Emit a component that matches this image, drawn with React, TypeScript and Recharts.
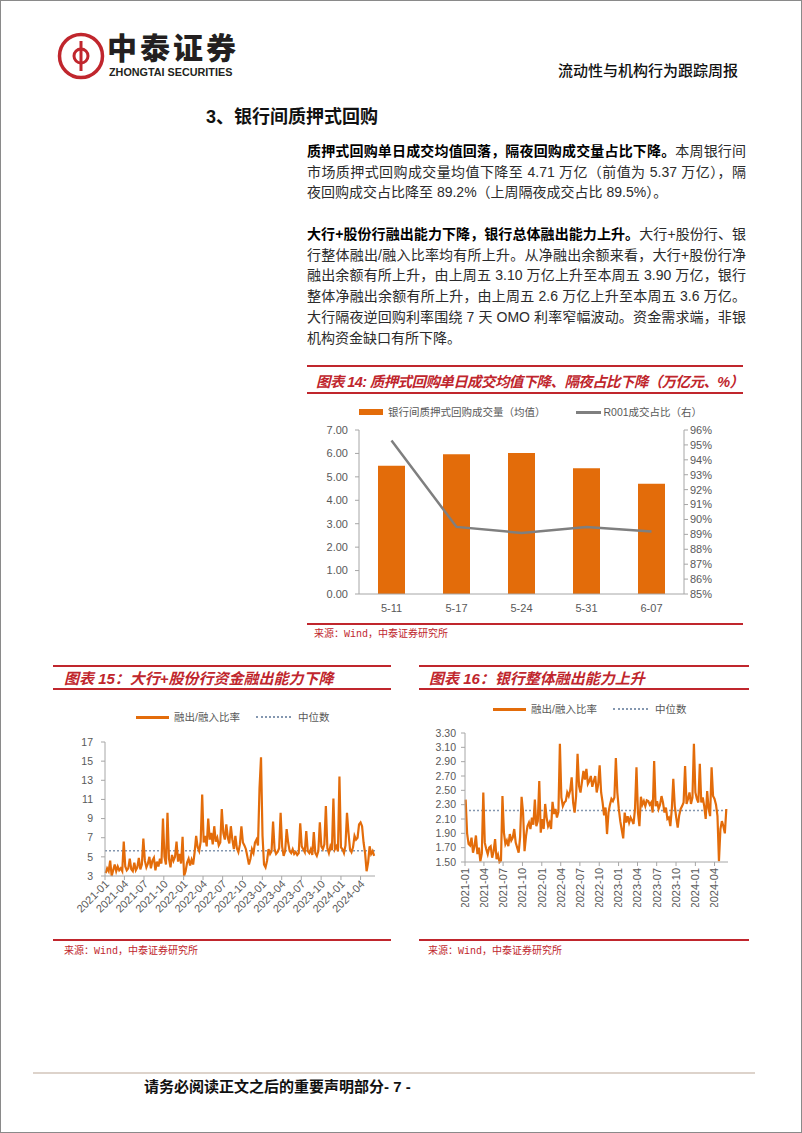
import React from 'react'
import {
  ComposedChart, LineChart, Bar, Line, XAxis, YAxis, ReferenceLine,
} from 'recharts'

const RED = '#c0262d'
const ORANGE = '#e36c0a'
const GREY = '#7f7f7f'
const AXIS = '#a6a6a6'
const TICK = '#595959'
const MEDIAN = '#8497b0'
const SANS = '"Liberation Sans", Arial, "Noto Sans CJK SC", sans-serif'
const CJK = '"Liberation Sans", "Noto Sans CJK SC", sans-serif'
const MONO = '"Liberation Mono", "Noto Sans CJK SC", monospace'

// 图表14：质押式回购
const weeks14 = ['5-11', '5-17', '5-24', '5-31', '6-07']
const volume14 = [5.47, 5.96, 6.02, 5.37, 4.71]
const r001Share14 = [95.3, 89.5, 89.1, 89.5, 89.2]
const leftTicks14 = [0, 1, 2, 3, 4, 5, 6, 7]
const rightTicks14 = [85, 86, 87, 88, 89, 90, 91, 92, 93, 94, 95, 96]

// 季度刻度（距 2021-01-01 的天数）
const quarterDays = [0, 90, 181, 273, 365, 455, 546, 638, 730, 820, 911, 1003, 1095, 1186]
const quarterLabels = [
  '2021-01', '2021-04', '2021-07', '2021-10', '2022-01', '2022-04', '2022-07',
  '2022-10', '2023-01', '2023-04', '2023-07', '2023-10', '2024-01', '2024-04',
]
const firstDay = 3 // 2021-01-04, 周度取样

// 图表15：大行+股份行 融出/融入比率（周度读数）
const ratio15 = [
  3.3, 3.8, 3.5, 4.6, 3.0, 3.6, 4.2, 3.5, 4.0, 3.6, 3.8, 3.5, 6.6,
  4.0, 3.6, 3.8, 4.8, 3.7, 3.5, 4.4, 3.6, 3.9, 4.9, 3.7, 4.2, 6.9,
  4.6, 3.9, 4.3, 5.0, 3.8, 4.6, 4.9, 3.6, 4.5, 4.0, 4.8, 4.3, 9.0,
  5.0, 4.2, 9.6, 4.8, 3.9, 5.2, 4.6, 5.0, 6.6, 4.5, 5.3, 4.3, 7.1,
  3.0, 3.5, 4.4, 4.8, 4.1, 4.7, 4.2, 5.5, 7.2, 6.0, 5.6, 6.6, 11.5,
  6.5, 7.2, 6.1, 9.0, 6.8, 7.5, 6.3, 8.2, 6.6, 7.0, 6.2, 6.5, 10.0,
  7.5, 6.8, 8.4, 7.0, 6.4, 8.2, 6.8, 5.8, 7.2, 5.9, 5.5, 6.3, 8.2,
  6.5, 6.2, 5.8, 5.0, 4.2, 4.8, 5.8, 5.4, 6.5, 6.8, 6.2, 12.1, 15.4,
  7.2, 4.2, 3.9, 4.6, 5.8, 5.3, 5.6, 8.7, 5.8, 5.3, 5.5, 5.9, 9.6,
  6.1, 5.1, 5.6, 7.9, 6.5, 5.6, 5.4, 5.8, 5.3, 5.5, 5.2, 5.4, 8.5,
  6.1, 5.8, 5.5, 7.7, 5.6, 5.4, 5.8, 5.2, 7.6, 5.4, 5.1, 5.6, 8.6,
  6.1, 5.8, 6.3, 10.3, 5.9, 5.4, 6.1, 5.7, 11.1, 5.8, 6.1, 5.6, 13.4,
  6.0, 5.8, 5.4, 6.2, 9.6, 7.5, 5.8, 5.5, 6.0, 7.2, 6.8, 7.0, 8.4,
  8.6, 8.2, 6.5, 5.4, 3.5, 4.4, 6.1, 5.3, 5.6, 5.1,
]
const median15 = 5.65
const ticks15 = [3, 5, 7, 9, 11, 13, 15, 17]

// 图表16：银行整体 融出/融入比率（周度读数）
const ratio16 = [
  2.37, 1.90, 1.75, 1.73, 1.84, 1.63, 1.72, 1.87, 1.61, 1.70, 1.51, 1.62, 2.47,
  1.77, 1.68, 1.61, 1.70, 1.72, 1.56, 1.65, 1.82, 1.54, 1.60, 1.50, 1.52, 2.42,
  1.91, 1.75, 1.80, 1.72, 1.89, 1.80, 1.84, 1.96, 1.77, 1.70, 1.63, 1.85, 2.41,
  2.19, 1.65, 1.86, 2.00, 2.05, 1.96, 2.12, 2.02, 2.37, 2.00, 2.07, 2.63, 1.91,
  2.10, 1.96, 2.31, 2.12, 2.00, 2.05, 1.96, 2.34, 2.17, 2.24, 2.12, 2.20, 3.15,
  2.40, 2.28, 2.33, 2.35, 2.47, 2.42, 2.50, 2.68, 2.33, 2.19, 2.42, 3.01, 2.56,
  2.47, 2.62, 2.77, 2.65, 2.80, 2.59, 2.63, 2.70, 2.55, 2.63, 2.70, 2.47, 2.58,
  2.85, 2.47, 2.33, 2.15, 2.26, 1.89, 2.19, 2.30, 2.38, 2.35, 2.40, 2.95, 2.47,
  2.24, 2.07, 1.95, 1.83, 2.19, 2.05, 2.14, 2.05, 2.12, 2.08, 2.03, 2.24, 2.82,
  2.19, 2.00, 2.41, 2.30, 2.35, 2.28, 2.36, 2.35, 2.30, 2.33, 2.19, 2.91, 2.28,
  2.35, 2.24, 2.30, 2.42, 2.33, 2.19, 2.26, 2.10, 2.12, 2.00, 2.24, 2.66, 2.28,
  2.12, 1.98, 2.15, 2.24, 2.28, 2.33, 2.84, 2.31, 2.38, 2.47, 2.31, 2.40, 3.15,
  2.47, 2.38, 2.33, 2.87, 2.33, 2.40, 2.28, 2.10, 2.49, 2.24, 2.14, 2.82, 2.42,
  2.38, 2.30, 2.14, 1.51, 1.96, 2.07, 2.00, 1.90, 2.24,
]
const median16 = 2.22
const ticks16 = [1.5, 1.7, 1.9, 2.1, 2.3, 2.5, 2.7, 2.9, 3.1, 3.3]

// 正文
type Seg = [string, boolean]
const para1: Seg[][] = [
  [['质押式回购单日成交均值回落，隔夜回购成交量占比下降。', true], ['本周银行间', false]],
  [['市场质押式回购成交量均值下降至 4.71 万亿（前值为 5.37 万亿），隔', false]],
  [['夜回购成交占比降至 89.2%（上周隔夜成交占比 89.5%）。', false]],
]
const para2: Seg[][] = [
  [['大行+股份行融出能力下降，银行总体融出能力上升。', true], ['大行+股份行、银', false]],
  [['行整体融出/融入比率均有所上升。从净融出余额来看，大行+股份行净', false]],
  [['融出余额有所上升，由上周五 3.10 万亿上升至本周五 3.90 万亿，银行', false]],
  [['整体净融出余额有所上升，由上周五 2.6 万亿上升至本周五 3.6 万亿。', false]],
  [['大行隔夜逆回购利率围绕 7 天 OMO 利率窄幅波动。资金需求端，非银', false]],
  [['机构资金缺口有所下降。', false]],
]

const abs = (left: number, top: number, extra: React.CSSProperties = {}): React.CSSProperties => ({
  position: 'absolute', left, top, ...extra,
})

function Paragraph({ lines, top }: { lines: Seg[][]; top: number }) {
  return (
    <>
      {lines.map((segs, i) => {
        const last = i === lines.length - 1
        return (
          <div key={i} style={abs(306, top + i * 20.7 - 10, {
            width: 439, fontSize: 14, lineHeight: '20px', color: '#2b2b2b',
            textAlign: 'justify', textAlignLast: last ? 'left' : 'justify',
          })}>
            {segs.map(([t, b], j) => (
              <span key={j} style={{ fontWeight: b ? 700 : 400, color: b ? '#000' : undefined }}>{t}</span>
            ))}
          </div>
        )
      })}
    </>
  )
}

function RedRule({ left, top, width }: { left: number; top: number; width: number }) {
  return <div style={abs(left, top, { width, height: 2, background: RED })} />
}

function ChartTitle({ left, top, text, size = 15, spacing = 0 }: {
  left: number; top: number; text: string; size?: number; spacing?: number
}) {
  return (
    <div style={abs(left, top - 10, {
      fontSize: size, lineHeight: '20px', color: RED, fontWeight: 700, letterSpacing: spacing,
      fontStyle: 'italic', whiteSpace: 'nowrap',
    })}>{text}</div>
  )
}

function Source({ left, top }: { left: number; top: number }) {
  return (
    <div style={abs(left, top - 7, { fontFamily: MONO, fontSize: 10, lineHeight: '14px', color: RED })}>
      来源：Wind，中泰证券研究所
    </div>
  )
}

function LineLegend({ left, top }: { left: number; top: number }) {
  const txt: React.CSSProperties = { fontSize: 10.5, color: TICK, lineHeight: '14px' }
  return (
    <div style={abs(left, top - 7, { display: 'flex', alignItems: 'center', whiteSpace: 'nowrap' })}>
      <div style={{ width: 33, height: 3, background: ORANGE, marginRight: 5 }} />
      <span style={txt}>融出/融入比率</span>
      <div style={{ width: 35, borderTop: `2px dotted ${MEDIAN}`, margin: '0 7px 0 16px' }} />
      <span style={txt}>中位数</span>
    </div>
  )
}

function DiagTick(props: any) {
  const { x, y, payload } = props
  return (
    <g transform={`translate(${x + 2},${y + 2})`}>
      <text textAnchor="end" dy="0.35em" transform="rotate(-45)" fontSize={11} fill={TICK} fontFamily={SANS}>
        {quarterLabels[quarterDays.indexOf(payload.value)]}
      </text>
    </g>
  )
}

function VertTick(props: any) {
  const { x, y, payload } = props
  return (
    <g transform={`translate(${x},${y + 2})`}>
      <text textAnchor="end" dy="0.35em" transform="rotate(-90)" fontSize={11} fill={TICK} fontFamily={SANS}>
        {quarterLabels[quarterDays.indexOf(payload.value)]}
      </text>
    </g>
  )
}

function Logo() {
  return (
    <>
      <svg style={abs(56, 31)} width={48} height={48} viewBox="0 0 48 48">
        <circle cx={24} cy={24} r={21.5} fill="none" stroke={RED} strokeWidth={3.5} />
        <path d="M24 9 L24 39" stroke={RED} strokeWidth={3} />
        <path d="M24 17 A7 7 0 1 0 24 31" fill="none" stroke={RED} strokeWidth={3} />
        <path d="M24 17 A7 7 0 1 1 24 31" fill="none" stroke={RED} strokeWidth={3} />
      </svg>
      <div style={abs(106, 32, { fontSize: 30, lineHeight: '32px', fontWeight: 900, color: '#231f20', letterSpacing: 3 })}>
        中泰证券
      </div>
      <div style={abs(108, 65, { fontFamily: SANS, fontSize: 10.8, lineHeight: '12px', fontWeight: 700, color: '#231f20' })}>
        ZHONGTAI SECURITIES
      </div>
    </>
  )
}

export default function App() {
  const data14 = weeks14.map((w, i) => ({ week: w, volume: volume14[i], share: r001Share14[i] }))
  const data15 = ratio15.map((v, i) => ({ day: firstDay + 7 * i, v }))
  const data16 = ratio16.map((v, i) => ({ day: firstDay + 7 * i, v }))

  const tickStyle = { fontSize: 11, fill: TICK, fontFamily: SANS }
  const tickStyleSm = { fontSize: 10.5, fill: TICK, fontFamily: SANS }

  return (
    <div style={{
      position: 'absolute', left: 0, top: 0, width: 802, height: 1133, boxSizing: 'border-box',
      border: '1px solid #8a8a8a', background: '#fff', overflow: 'hidden', fontFamily: CJK,
    }}>
      <Logo />
      <div style={abs(557, 60, { fontSize: 15, lineHeight: '20px', color: '#111', fontWeight: 500 })}>
        流动性与机构行为跟踪周报
      </div>
      <div style={abs(205, 104, { fontSize: 18, lineHeight: '24px', color: '#111', fontWeight: 700 })}>
        3、银行间质押式回购
      </div>

      <Paragraph lines={para1} top={150} />
      <Paragraph lines={para2} top={233} />

      {/* 图表14 */}
      <RedRule left={306} top={364} width={436} />
      <ChartTitle left={315} top={381} size={14.5} spacing={-0.6}
        text="图表 14: 质押式回购单日成交均值下降、隔夜占比下降（万亿元、%）" />
      <RedRule left={306} top={391} width={436} />
      <div style={abs(358, 404, { display: 'flex', alignItems: 'center', whiteSpace: 'nowrap' })}>
        <div style={{ width: 24, height: 6, background: ORANGE, marginRight: 5 }} />
        <span style={{ fontSize: 10.5, color: TICK, lineHeight: '14px' }}>银行间质押式回购成交量（均值）</span>
        <div style={{ width: 25, height: 3, background: GREY, margin: '0 3px 0 30px' }} />
        <span style={{ fontSize: 10.5, color: TICK, lineHeight: '14px' }}>R001成交占比（右）</span>
      </div>
      <div style={abs(300, 420)}>
        <ComposedChart width={440} height={200} data={data14} margin={{ top: 9, right: 7, left: 8, bottom: 0 }}>
          <XAxis dataKey="week" interval={0} height={27} tickMargin={4}
            axisLine={{ stroke: AXIS }} tickLine={false} tick={tickStyle} />
          <YAxis yAxisId="l" domain={[0, 7]} ticks={leftTicks14} interval={0} width={50}
            tickFormatter={(v: number) => v.toFixed(2)} tickSize={4} tickMargin={7}
            axisLine={{ stroke: AXIS }} tickLine={{ stroke: AXIS }} tick={tickStyle} />
          <YAxis yAxisId="r" orientation="right" domain={[85, 96]} ticks={rightTicks14} interval={0} width={50}
            tickFormatter={(v: number) => `${v}%`} tickSize={4} tickMargin={2}
            axisLine={{ stroke: AXIS }} tickLine={{ stroke: AXIS }} tick={tickStyle} />
          <Bar yAxisId="l" dataKey="volume" fill={ORANGE} barSize={27} isAnimationActive={false} />
          <Line yAxisId="r" dataKey="share" type="linear" stroke={GREY} strokeWidth={2.5}
            dot={false} isAnimationActive={false} />
        </ComposedChart>
      </div>
      <RedRule left={306} top={622} width={436} />
      <Source left={313} top={634} />

      {/* 图表15 */}
      <RedRule left={52} top={664} width={338} />
      <ChartTitle left={63} top={678} text="图表 15：大行+股份行资金融出能力下降" />
      <RedRule left={52} top={687} width={338} />
      <LineLegend left={135} top={716} />
      <div style={abs(50, 735)}>
        <LineChart width={335} height={185} data={data15} margin={{ top: 6, right: 11, left: 10, bottom: 0 }}>
          <XAxis dataKey="day" type="number" domain={[0, 1253]} ticks={quarterDays} interval={0}
            height={45} tickSize={4} tickMargin={0} axisLine={{ stroke: AXIS }} tickLine={{ stroke: AXIS }}
            tick={<DiagTick />} />
          <YAxis domain={[3, 17]} ticks={ticks15} interval={0} width={44} tickSize={4} tickMargin={8}
            axisLine={{ stroke: AXIS }} tickLine={{ stroke: AXIS }} tick={tickStyleSm} />
          <ReferenceLine y={median15} stroke={MEDIAN} strokeWidth={1.5} strokeDasharray="2 2" />
          <Line dataKey="v" type="linear" stroke={ORANGE} strokeWidth={2.2} dot={false} isAnimationActive={false} />
        </LineChart>
      </div>
      <RedRule left={52} top={938} width={338} />
      <Source left={63} top={951} />

      {/* 图表16 */}
      <RedRule left={418} top={664} width={330} />
      <ChartTitle left={428} top={678} text="图表 16：银行整体融出能力上升" />
      <RedRule left={418} top={687} width={330} />
      <LineLegend left={492} top={708} />
      <div style={abs(415, 726)}>
        <LineChart width={320} height={180} data={data16} margin={{ top: 6, right: 8, left: 9, bottom: 0 }}>
          <XAxis dataKey="day" type="number" domain={[0, 1250]} ticks={quarterDays} interval={0}
            height={45} tickSize={4} tickMargin={0} axisLine={{ stroke: AXIS }} tickLine={{ stroke: AXIS }}
            tick={<VertTick />} />
          <YAxis domain={[1.5, 3.3]} ticks={ticks16} interval={0} width={40} tickSize={4} tickMargin={5}
            tickFormatter={(v: number) => v.toFixed(2)}
            axisLine={{ stroke: AXIS }} tickLine={{ stroke: AXIS }} tick={tickStyleSm} />
          <ReferenceLine y={median16} stroke={MEDIAN} strokeWidth={1.5} strokeDasharray="2 2" />
          <Line dataKey="v" type="linear" stroke={ORANGE} strokeWidth={2.2} dot={false} isAnimationActive={false} />
        </LineChart>
      </div>
      <RedRule left={418} top={938} width={330} />
      <Source left={427} top={951} />

      {/* 页脚 */}
      <div style={abs(32, 1071, { width: 722, height: 2, background: '#ddd3cb' })} />
      <div style={abs(143, 1076, { fontSize: 15, lineHeight: '20px', color: '#111', fontWeight: 600 })}>
        请务必阅读正文之后的重要声明部分- 7 -
      </div>
    </div>
  )
}
